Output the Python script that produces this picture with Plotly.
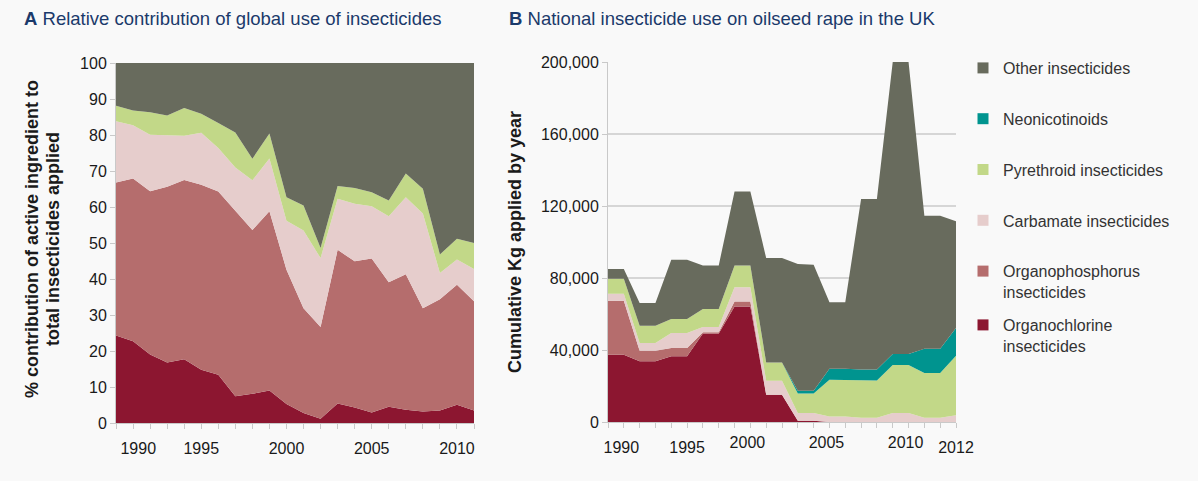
import plotly.graph_objects as go

# ---------------- data ----------------
years_a = list(range(1990, 2012))
years_b = list(range(1990, 2013))

series_names = ["Organochlorine<br>insecticides", "Organophosphorus<br>insecticides",
                "Carbamate insecticides", "Pyrethroid insecticides",
                "Neonicotinoids", "Other insecticides"]

# Panel A: % contribution (global)
a_organochlorine = [24.3, 22.7, 19.0, 16.8, 17.7, 14.8, 13.4, 7.4, 8.1, 9.0, 5.3, 2.8, 1.2, 5.4, 4.3, 2.9, 4.5, 3.7, 3.2, 3.5, 5.1, 3.5]
a_organophosphorus = [42.5, 45.2, 45.4, 48.8, 49.8, 51.4, 50.9, 51.6, 45.5, 49.8, 37.3, 29.1, 25.5, 42.7, 40.6, 42.8, 34.6, 37.6, 28.7, 30.9, 33.3, 30.3]
a_carbamate = [17.0, 14.8, 15.7, 14.4, 12.3, 14.4, 12.1, 12.0, 13.8, 14.7, 13.6, 21.6, 19.1, 14.2, 16.0, 14.5, 18.3, 21.4, 26.3, 7.3, 7.0, 9.0]
a_pyrethroid = [4.3, 4.1, 6.2, 5.4, 7.7, 5.3, 6.9, 9.7, 6.0, 6.9, 6.5, 6.9, 2.8, 3.5, 4.4, 3.9, 4.4, 6.6, 6.9, 5.1, 5.8, 7.2]
a_other = [11.9, 13.2, 13.7, 14.6, 12.5, 14.1, 16.7, 19.3, 26.6, 19.6, 37.3, 39.6, 51.4, 34.2, 34.7, 35.9, 38.2, 30.7, 34.9, 53.2, 48.8, 50.0]

# Panel B: kg applied on oilseed rape in the UK
b_organochlorine = [37400, 37400, 33700, 33700, 36500, 36500, 49100, 49100, 64200, 64200, 15200, 15200, 700, 700, 0, 0, 0, 0, 0, 0, 0, 0, 0]
b_organophosphorus = [30000, 30000, 5900, 5900, 4600, 4600, 700, 700, 2800, 2800, 0, 0, 0, 0, 0, 0, 0, 0, 0, 0, 0, 0, 0]
b_carbamate = [3900, 3900, 4300, 4300, 8300, 8300, 3000, 3000, 7800, 7800, 7700, 7700, 4300, 4300, 3100, 3100, 2400, 2400, 5000, 5000, 2400, 2400, 3700]
b_pyrethroid = [8300, 8300, 9600, 9600, 7800, 7800, 10000, 10000, 12200, 12200, 10200, 10200, 10900, 10900, 20400, 20400, 20700, 20700, 26700, 26700, 24800, 24800, 33100]
b_neonicotinoids = [0, 0, 0, 0, 0, 0, 0, 0, 0, 0, 0, 0, 1500, 1500, 6100, 6100, 6000, 6000, 6100, 6100, 13500, 13500, 15400]
b_other = [5400, 5400, 12600, 12600, 33000, 33000, 24200, 24200, 41100, 41100, 58000, 58000, 70400, 70000, 36900, 36900, 94800, 94800, 162200, 162200, 73900, 73900, 59300]

a_tick_years = [1990, 1995, 2000, 2005, 2010]
a_tick_labels = ["1990", "1995", "2000", "2005", "2010"]
b_tick_years_left = [2000, 2005, 2010]          # labels set to the left of their tick
b_tick_labels_left = ["2000", "2005", "2010"]
b_tick_years_center = [1990, 1995, 2012]        # labels centred on their tick
b_tick_labels_center = ["1990", "1995", "2012"]

# ---------------- style ----------------
colors = ["#8C1630", "#B56D6D", "#E6CDCC", "#C2D888", "#00948F", "#686B5D"]
bg = "#F9F9F9"
axis_gray = "#C9C9C9"
font_family = "Liberation Sans, Arial, sans-serif"
title_color = "#1B3A6B"
NB = "\u00a0"

a_text = list(a_tick_labels)
a_text[0] = NB * 10 + a_text[0]
b_text_center = list(b_tick_labels_center)
b_text_center[0] = NB * 6 + b_text_center[0]

W, H = 1198, 481
def px_x(p):
    return p / W
def px_y(p):
    return 1 - p / H

fig = go.Figure()

a_series = [a_organochlorine, a_organophosphorus, a_carbamate, a_pyrethroid, None, a_other]
b_series = [b_organochlorine, b_organophosphorus, b_carbamate, b_pyrethroid, b_neonicotinoids, b_other]

for name, vals, col in zip(series_names, a_series, colors):
    if vals is None:
        continue
    fig.add_trace(go.Scatter(x=years_a, y=vals, mode="lines", stackgroup="a",
                             line=dict(width=0, color=col), fillcolor=col,
                             name=name, showlegend=False, xaxis="x", yaxis="y",
                             hoverinfo="skip"))

for name, vals, col in zip(series_names, b_series, colors):
    fig.add_trace(go.Scatter(x=years_b, y=vals, mode="lines", stackgroup="b",
                             line=dict(width=0, color=col), fillcolor=col,
                             name=name, showlegend=False, xaxis="x2", yaxis="y2",
                             hoverinfo="skip"))

# empty trace on the overlay x axis that carries the centred year labels of panel B
fig.add_trace(go.Scatter(x=[None], y=[None], mode="markers", showlegend=False,
                         xaxis="x3", yaxis="y2", hoverinfo="skip"))

# legend entries (square swatches), top to bottom
for name, col in list(zip(series_names, colors))[::-1]:
    fig.add_trace(go.Scatter(x=[None], y=[None], mode="markers",
                             marker=dict(symbol="square", size=11, color=col),
                             name=name, legendgroup=name, showlegend=True,
                             legend="legend2" if name.startswith("Organochlorine") else "legend",
                             xaxis="x2", yaxis="y2"))

tickfont = dict(family=font_family, size=16, color="#1a1a1a")
legend_font = dict(family=font_family, size=16, color="#333333")

fig.update_layout(
    width=W, height=H,
    margin=dict(l=0, r=0, t=0, b=0),
    paper_bgcolor=bg, plot_bgcolor=bg,
    font=dict(family=font_family, color="#1a1a1a"),
    xaxis=dict(domain=[px_x(116), px_x(474)], range=[1990, 2011],
               tickvals=a_tick_years, ticktext=a_text, tickangle=0,
               ticks="outside", ticklen=5, tickcolor=axis_gray,
               minor=dict(dtick=1, ticks="outside", ticklen=5, tickcolor=axis_gray),
               showline=True, linecolor=axis_gray, showgrid=False, zeroline=False,
               tickfont=tickfont, anchor="y", automargin=False, ticklabelstandoff=6),
    yaxis=dict(domain=[px_y(423), px_y(63)], range=[0, 100], dtick=10,
               ticks="outside", ticklen=5, tickcolor=axis_gray,
               showline=True, linecolor=axis_gray, showgrid=False, zeroline=False,
               tickfont=tickfont, anchor="x", automargin=False),
    xaxis2=dict(domain=[px_x(608), px_x(956)], range=[1990, 2012],
                tickvals=b_tick_years_left, ticktext=b_tick_labels_left, tickangle=0,
                ticklabelposition="outside left",
                ticks="outside", ticklen=5, tickcolor=axis_gray,
                minor=dict(dtick=1, ticks="outside", ticklen=5, tickcolor=axis_gray),
                showline=True, linecolor=axis_gray, showgrid=False, zeroline=False,
                tickfont=tickfont, anchor="y2", automargin=False, ticklabelstandoff=6),
    xaxis3=dict(overlaying="x2", range=[1990, 2012],
                tickvals=b_tick_years_center, ticktext=b_text_center, tickangle=0,
                ticks="outside", ticklen=5, tickcolor=axis_gray,
                showline=False, showgrid=False, zeroline=False,
                tickfont=tickfont, anchor="y2", automargin=False, ticklabelstandoff=6),
    yaxis2=dict(domain=[px_y(422), px_y(62)], range=[0, 200000], dtick=40000,
                tickformat=",", ticks="outside", ticklen=5, tickcolor=axis_gray,
                showline=True, linecolor=axis_gray, showgrid=True, gridcolor="#D6D6D6",
                gridwidth=1.5, zeroline=False, tickfont=tickfont, anchor="x2",
                automargin=False),
    legend=dict(x=px_x(963), xanchor="left", y=px_y(51), yanchor="top",
                font=legend_font, traceorder="grouped", tracegroupgap=27, valign="top",
                bgcolor="rgba(0,0,0,0)", itemwidth=30),
    legend2=dict(x=px_x(963), xanchor="left", y=px_y(308), yanchor="top",
                 font=legend_font, valign="top", bgcolor="rgba(0,0,0,0)", itemwidth=30),
    annotations=[
        dict(text="<b>A</b> Relative contribution of global use of insecticides",
             x=px_x(22), y=px_y(18), xref="paper", yref="paper",
             xanchor="left", yanchor="middle", showarrow=False,
             font=dict(family=font_family, size=18.5, color=title_color)),
        dict(text="<b>B</b> National insecticide use on oilseed rape in the UK",
             x=px_x(507), y=px_y(18), xref="paper", yref="paper",
             xanchor="left", yanchor="middle", showarrow=False,
             font=dict(family=font_family, size=18.5, color=title_color)),
        dict(text="<b>% contribution of active ingredient to</b>",
             x=px_x(32), y=px_y(239), xref="paper", yref="paper",
             xanchor="center", yanchor="middle", showarrow=False, textangle=-90,
             font=dict(family=font_family, size=18, color="#1a1a1a")),
        dict(text="<b>total insecticides applied</b>",
             x=px_x(53), y=px_y(239), xref="paper", yref="paper",
             xanchor="center", yanchor="middle", showarrow=False, textangle=-90,
             font=dict(family=font_family, size=18, color="#1a1a1a")),
        dict(text="<b>Cumulative Kg applied by year</b>",
             x=px_x(515), y=px_y(242), xref="paper", yref="paper",
             xanchor="center", yanchor="middle", showarrow=False, textangle=-90,
             font=dict(family=font_family, size=18, color="#1a1a1a")),
    ],
)

fig.write_html("out.html", config={"displayModeBar": False},
               post_script="document.body.style.margin='0';")
